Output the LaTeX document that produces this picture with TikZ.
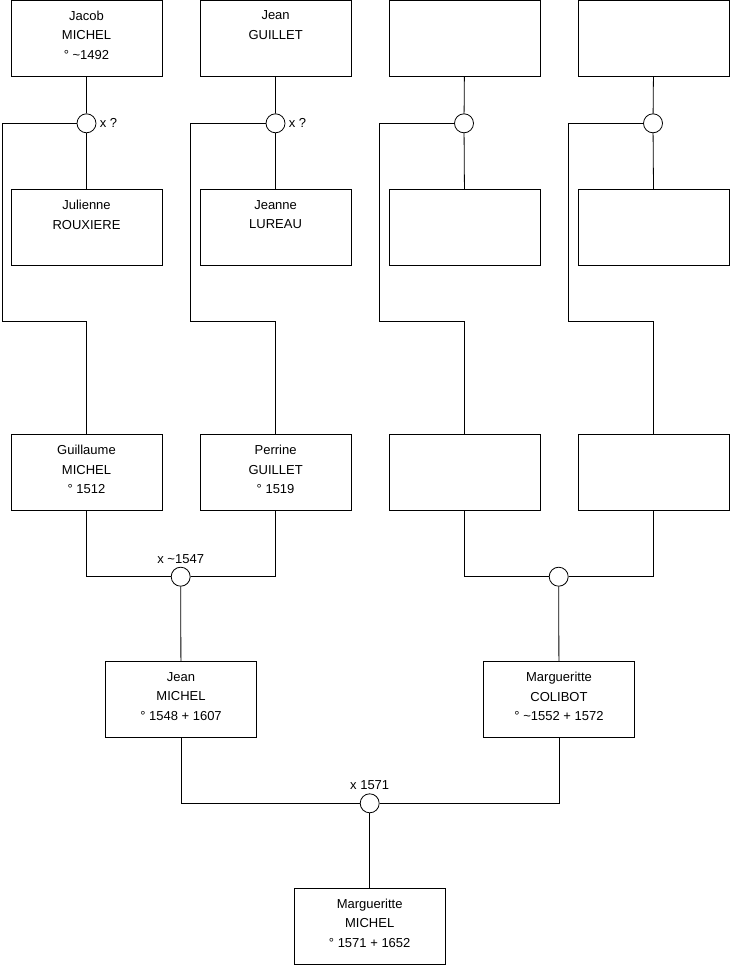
\documentclass[tikz,border=0pt]{standalone}
\usepackage{fontspec}
\setmainfont{Liberation Sans}
\usetikzlibrary{positioning}

\newcommand{\who}[3]{#1\\#2\\#3\rule[-6pt]{0pt}{6pt}}
\newcommand{\tl}{\textasciitilde}

\begin{document}
\begin{tikzpicture}[x=1pt,y=-1pt,line width=0.8pt,node distance=37.3pt,
  person/.style={draw,minimum width=151pt,minimum height=76pt,inner sep=0pt,align=center,
    font=\fontsize{13}{19.5}\selectfont},
  knot/.style={draw,circle,fill=white,minimum size=19pt,inner sep=0pt},
  lab/.style={font=\fontsize{13}{14}\selectfont,inner sep=2pt}]
\useasboundingbox (0,0) rectangle (740,975);
% generation 1
\node[person] (jacob) at (86.5,38) {\who{Jacob}{MICHEL}{° \tl1492}};
\node[person, right=of jacob] (jeang) {\who{Jean}{GUILLET}{}};
\node[person, right=of jeang] (gp3) {};
\node[person, right=of gp3] (gp4) {};
% spouses
\node[person] (julienne) at (86.5,227.5) {\who{Julienne}{ROUXIERE}{}};
\node[person, right=of julienne] (jeanne) {\who{Jeanne}{LUREAU}{}};
\node[person, right=of jeanne] (gm3) {};
\node[person, right=of gm3] (gm4) {};
% generation 2
\node[person] (guillaume) at (86.5,472.7) {\who{Guillaume}{MICHEL}{° 1512}};
\node[person, right=of guillaume] (perrine) {\who{Perrine}{GUILLET}{° 1519}};
\node[person, right=of perrine] (p3) {};
\node[person, right=of p3] (p4) {};
% generation 3 and 4
\node[person] (jeanm) at (181,699.3) {\who{Jean}{MICHEL}{° 1548 + 1607}};
\node[person] (margc) at (559,699.3) {\who{Margueritte}{COLIBOT}{° \tl1552 + 1572}};
\node[person] (margm) at (369.7,926) {\who{Margueritte}{MICHEL}{° 1571 + 1652}};

% marriage knots
\node[knot] (k1) at (86.5,123.3) {};
\node[knot] (k2) at (275.5,123.3) {};
\node[knot] (k3) at (464,123.3) {};
\node[knot] (k4) at (653,123.3) {};
\node[knot] (k5) at (180.7,576.7) {};
\node[knot] (k6) at (558.7,576.7) {};
\node[knot] (k7) at (369.7,803.3) {};
\node[lab, right=1pt of k1] (m1) {x ?};
\node[lab, right=1pt of k2] (m2) {x ?};
\node[lab, above=1pt of k5] (m5) {x \tl1547};
\node[lab, above=1pt of k7] (m7) {x 1571};

% turning points
\coordinate (c1) at (2,321.7);
\coordinate (c2) at (190,321.7);
\coordinate (c3) at (379,321.7);
\coordinate (c4) at (568,321.7);

\draw (jacob) -- (k1) -- (julienne);
\draw (jeang) -- (k2) -- (jeanne);
\draw (gp3) -- (k3) -- (gm3);
\draw (gp4) -- (k4) -- (gm4);
\draw (k1.west) -| (c1) -| (guillaume.north);
\draw (k2.west) -| (c2) -| (perrine.north);
\draw (k3.west) -| (c3) -| (p3.north);
\draw (k4.west) -| (c4) -| (p4.north);
\draw (guillaume) |- (k5) -| (perrine);
\draw (p3) |- (k6) -| (p4);
\draw (k5) -- (jeanm);
\draw (k6) -- (margc);
\draw (jeanm) |- (k7) -| (margc);
\draw (k7) -- (margm);
\end{tikzpicture}
\end{document}
